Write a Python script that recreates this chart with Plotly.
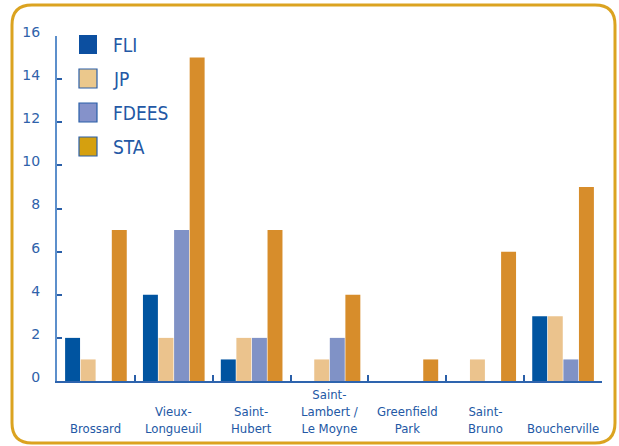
import plotly.graph_objects as go

categories = ["Brossard", "Vieux-<br>Longueuil", "Saint-<br>Hubert",
              "Saint-<br>Lambert /<br>Le Moyne", "Greenfield<br>Park",
              "Saint-<br>Bruno", "Boucherville"]
series_names = ["FLI", "JP", "FDEES", "STA"]
fli = [2, 4, 1, 0, 0, 0, 3]
jp = [1, 2, 2, 1, 0, 1, 3]
fdees = [0, 7, 2, 2, 0, 0, 1]
sta = [7, 15, 7, 4, 1, 6, 9]
y_ticks = [0, 2, 4, 6, 8, 10, 12, 14, 16]

bar_colors = ["#0054A0", "#EBC38D", "#8092C6", "#D78D2B"]
legend_colors = ["#0C4FA0", "#EBC88C", "#8592CA", "#D5A00F"]
text_blue = "#2358A5"
narrow = "Liberation Sans Narrow, DejaVu Sans Condensed, Roboto Condensed, Liberation Sans, sans-serif"

W, H = 619, 446
L, R, T, B = 57, 17, 36, 65
pw, ph = W - L - R, H - T - B


def px(x):
    return (x - L) / pw


def py(y):
    return (H - B - y) / ph


fig = go.Figure()
for name, vals, col in zip(series_names, [fli, jp, fdees, sta], bar_colors):
    fig.add_trace(go.Bar(x=categories, y=vals, name=name, marker_color=col,
                         marker_line_width=0, showlegend=False))

shapes = []
annotations = []

# rounded border
x0, x1, y0, y1, r = 12, 615, 5, 443, 20
path = (f"M {px(x0 + r)},{py(y0)} L {px(x1 - r)},{py(y0)} "
        f"Q {px(x1)},{py(y0)} {px(x1)},{py(y0 + r)} "
        f"L {px(x1)},{py(y1 - r)} Q {px(x1)},{py(y1)} {px(x1 - r)},{py(y1)} "
        f"L {px(x0 + r)},{py(y1)} Q {px(x0)},{py(y1)} {px(x0)},{py(y1 - r)} "
        f"L {px(x0)},{py(y0 + r)} Q {px(x0)},{py(y0)} {px(x0 + r)},{py(y0)} Z")
shapes.append(dict(type="path", xref="paper", yref="paper", path=path,
                   line=dict(color="#DBA320", width=3), layer="below"))

# custom legend
for i, (name, col) in enumerate(zip(series_names, legend_colors)):
    top = 35 + i * 34
    shapes.append(dict(type="rect", xref="paper", yref="paper",
                       x0=px(79), x1=px(97), y0=py(top + 19), y1=py(top),
                       fillcolor=col,
                       line=dict(color="#2A5FA8", width=1.2 if i > 0 else 0)))
    annotations.append(dict(xref="paper", yref="paper", x=px(111), y=py(top + 10),
                            xanchor="left", yanchor="middle", text=name,
                            showarrow=False,
                            font=dict(family=narrow, size=19, color=text_blue)))

# category labels, bottom aligned
for cat in categories:
    annotations.append(dict(xref="x", yref="paper", x=cat, y=py(438),
                            xanchor="center", yanchor="bottom", text=cat,
                            showarrow=False, align="center",
                            font=dict(family=narrow, size=13, color=text_blue)))

fig.update_layout(
    width=W, height=H,
    margin=dict(l=L, r=R, t=T, b=B),
    paper_bgcolor="white", plot_bgcolor="white",
    barmode="group", bargap=0.2, bargroupgap=0.04,
    shapes=shapes, annotations=annotations,
    showlegend=False,
)
fig.update_xaxes(type="category", tickson="boundaries", ticks="inside",
                 ticklen=6, tickwidth=1.5, tickcolor="#2A5FA8",
                 showticklabels=False, showline=True, linecolor="#2E64AE",
                 linewidth=2, showgrid=False, zeroline=False)
fig.update_yaxes(range=[0, 16], tickvals=y_ticks, ticks="inside", ticklen=5,
                 tickwidth=1.5, tickcolor="#2A5FA8", showline=True,
                 linecolor="#5C8FCB", linewidth=2, showgrid=False,
                 zeroline=False, ticklabelstandoff=12, ticklabelshift=-4,
                 tickfont=dict(family="DejaVu Sans", size=14, color="#2F62AA"))

fig.write_html("out.html", config={"displayModeBar": False},
               post_script="document.body.style.margin='0';document.body.style.overflow='hidden';")
